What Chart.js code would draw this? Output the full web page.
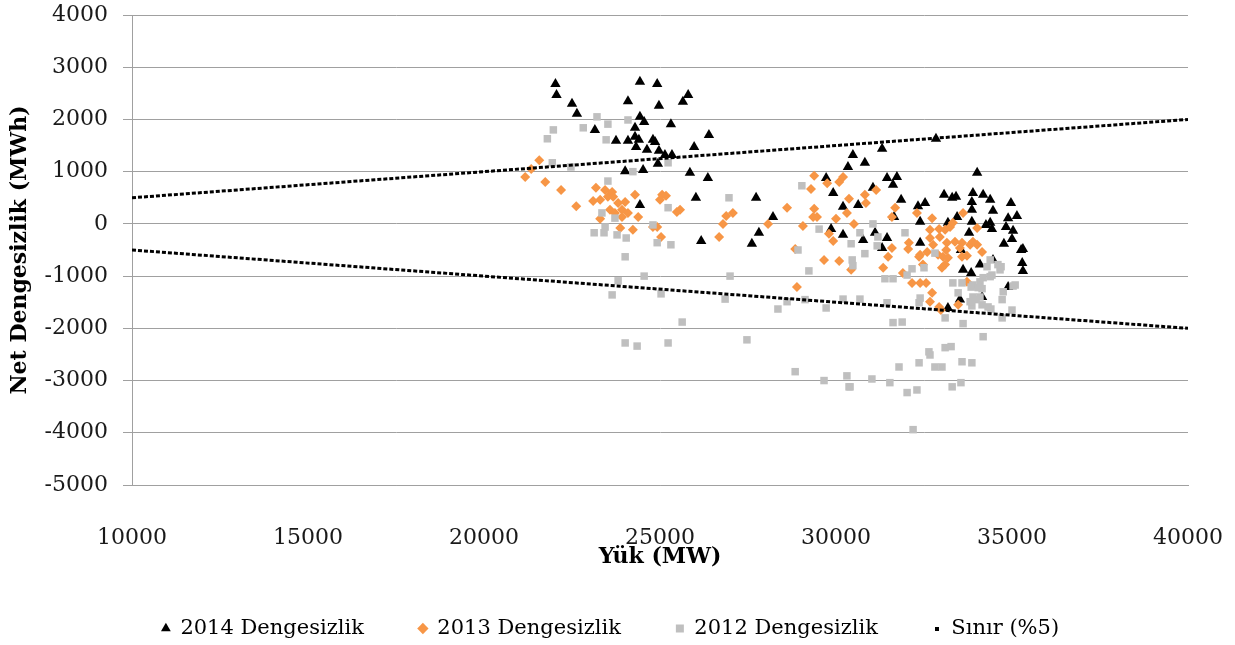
<!DOCTYPE html>
<html>
<head>
<meta charset="utf-8">
<script src="https://cdn.jsdelivr.net/npm/chart.js@4.4.1/dist/chart.umd.min.js"></script>
<style>
  html, body { margin: 0; padding: 0; background: #fff; }
</style>
</head>
<body>
<canvas id="grafik" width="1235" height="645"></canvas>
<script>
// 2014 dengesizlik (yuk MW, net dengesizlik MWh)
const x2014 = [22030,22060,22500,22640,23150,23750,24090,24430,24920,24090,24970,24430,24550,24290,24290,24400,24320,24630,24800,24860,
  24970,25140,25340,25310,25650,25800,24520,24010,24940,24430,25850,26390,25970,26360,26020,27730,28210,27810,26170,27610,
  30480,30340,29720,29920,30200,30630,29860,30200,30770,32840,31310,30820,34010,31450,31730,31620,31050,31850,32330,32530,
  33070,33300,33410,33890,34180,33860,34380,33860,34460,34970,35140,34890,34380,34260,34430,34830,35030,33440,33180,33780,
  32390,31650,31110,31450,31310,32390,34770,35000,35260,35310,33550,33610,33840,34090,34460,35290,35310,34890,33520,33180,
  34150,33860];
const y2014 = [2680,2470,2300,2110,1800,1590,1590,2720,2680,2350,2260,2050,1950,1840,1670,1610,1470,1420,1610,1570,
  1400,1320,1320,1910,2340,2470,1030,1010,1150,360,980,1700,1470,880,500,500,130,-170,-330,-380,
  1320,1090,880,590,330,360,-100,-210,-310,1630,1440,1170,980,880,900,750,690,460,340,400,
  560,500,520,590,560,420,460,270,250,400,150,110,20,-20,-100,-60,-130,130,20,-170,
  40,130,-170,-270,-460,-360,-380,-290,-500,-480,-500,-880,-940,-780,-690,-750,-900,-1210,-1450,-1610,
  -1400,40];

// 2013
const x2013 = [21570,21340,21170,21740,22190,22620,23180,23440,23520,23300,23100,23640,23670,23580,23810,24010,24290,23920,24090,24380,
  23300,23720,23920,23870,24230,24920,25060,25170,25000,25480,25030,24800,
  25570,26880,27070,26790,26680,28070,28610,29060,28840,28890,29380,29290,29750,30090,30200,30370,29350,29460,29380,30310,30000,29800,29920,30510,29660,30090,30430,
  30820,30850,31140,31680,31590,32300,32730,32930,33240,33320,33610,32670,32950,32760,33150,33380,33580,33810,34010,32070,
  32050,31590,31480,32390,32590,32900,33040,33580,33720,34150,34010,33890,33100,33520,33130,33180,33100,33010,33720,33470,
  31340,31900,32160,32390,32560,32730,32670,32930,32980,32360,32470,32670];
const y2013 = [1220,1050,900,800,650,340,690,650,520,460,440,610,520,270,400,420,560,270,210,130,
  100,210,130,-80,-110,-60,560,540,460,230,-250,-60,
  270,150,210,0,-250,0,310,-40,-480,-1210,920,670,780,800,900,480,130,130,290,210,100,-190,-330,0,-690,-710,-880,
  560,400,650,310,130,210,110,-100,-60,20,210,-270,-250,-400,-360,-340,-360,-400,-400,-360,
  -480,-460,-630,-590,-540,-590,-630,-630,-610,-540,-80,-340,-110,-460,-500,-650,-780,-840,-1110,-1550,
  -840,-940,-1130,-1130,-1130,-1320,-1490,-1590,-1650,-630,-780,-110];

// 2012
const x2012 = [23210,23520,22820,21970,21800,23470,24090,21940,22470,24230,
  23520,25230,23350,23720,23440,23410,23130,23780,24040,24800,
  24920,25310,25230,24010,23810,23640,24550,25030,25630,24010,
  24350,25230,26990,26850,27470,28350,28610,29230,28840,29120,
  29720,29660,30200,30310,30370,28920,30460,30480,30680,29030,
  26960,29520,30430,31050,31190,31170,30820,31960,32810,32160,
  32500,31390,31620,32020,33320,33580,34090,33840,34150,34290,
  34380,34690,35030,34750,34720,33980,33860,34150,34400,35000,
  34720,32390,32360,31450,33100,33610,34180,31620,31880,33100,
  33270,32640,32670,33580,33860,32360,31790,32810,33010,31020,
  31530,30400,32020,32300,33300,33550,32190,30680,34380,34600,
  34660,34430,34180,35090,33890,34040,33470,33890,34090,33810,
  34320];
const y2012 = [2050,1910,1840,1800,1630,1610,1990,1170,1090,1000,
  820,1170,210,110,-60,-170,-170,-210,-270,-20,
  -360,-400,310,-630,-1090,-1360,-1000,-1340,-1880,-2280,
  -2340,-2280,-1000,-1440,-2220,-1630,-1490,-900,-2830,-1450,
  -1610,-3000,-1440,-2910,-3120,-500,-690,-800,-1440,730,
  500,-100,-380,0,-250,-420,-570,-170,-560,-860,
  -840,-1050,-1050,-980,-1130,-1130,-1110,-1210,-1240,-820,
  -1010,-820,-1190,-1300,-1450,-1450,-1570,-1550,-1630,-1650,
  -1800,-1420,-1510,-1510,-1800,-1910,-2160,-1890,-1880,-2370,
  -2350,-2450,-2510,-2640,-2660,-2660,-2740,-2740,-2740,-2970,
  -3040,-3120,-3230,-3180,-3120,-3040,-3940,-170,-690,-780,
  -880,-980,-1030,-1170,-1170,-1220,-1320,-1400,-1400,-1490,
  -1590];

// %5 sinir cizgileri
const sinirX = [10000, 40000];
const sinirUst = [500, 2000];
const sinirAlt = [-500, -2000];

const etiketler = ['2014 Dengesizlik', '2013 Dengesizlik', '2012 Dengesizlik', 'Sınır (%5)'];

function noktalar(xs, ys) {
  return xs.map((x, i) => ({ x: x, y: ys[i] }));
}

// legend icin kucuk nokta
const nokta = document.createElement('canvas');
nokta.width = 4; nokta.height = 4;
const nctx = nokta.getContext('2d');
nctx.fillStyle = '#000';
nctx.fillRect(0, 0, 4, 4);

Chart.defaults.font.family = "'DejaVu Serif', serif";
Chart.defaults.color = '#1a1a1a';

const gridRenk = '#a0a0a0';

new Chart(document.getElementById('grafik'), {
  type: 'scatter',
  data: {
    datasets: [
      {
        label: etiketler[0],
        data: noktalar(x2014, y2014),
        pointStyle: 'triangle',
        pointRadius: 6,
        backgroundColor: '#000000',
        borderColor: '#000000',
        borderWidth: 0,
        order: 5
      },
      {
        label: etiketler[1],
        data: noktalar(x2013, y2013),
        pointStyle: 'rectRot',
        pointRadius: 5,
        backgroundColor: '#f79646',
        borderColor: '#f79646',
        borderWidth: 0,
        order: 4
      },
      {
        label: etiketler[2],
        data: noktalar(x2012, y2012),
        pointStyle: 'rect',
        pointRadius: 5.3,
        backgroundColor: '#bfbfbf',
        borderColor: '#bfbfbf',
        borderWidth: 0,
        order: 3
      },
      {
        label: etiketler[3],
        data: noktalar(sinirX, sinirUst),
        showLine: true,
        borderColor: '#000',
        backgroundColor: '#000',
        borderWidth: 3,
        borderDash: [4, 2],
        pointRadius: 0,
        pointStyle: nokta,
        order: 2
      },
      {
        label: 'Sınır alt',
        data: noktalar(sinirX, sinirAlt),
        showLine: true,
        borderColor: '#000',
        backgroundColor: '#000',
        borderWidth: 3,
        borderDash: [4, 2],
        pointRadius: 0,
        pointStyle: nokta,
        order: 1
      }
    ]
  },
  options: {
    responsive: false,
    animation: false,
    layout: { padding: { top: 15, right: 14, left: 0, bottom: -4 } },
    plugins: {
      tooltip: { enabled: false },
      legend: {
        position: 'bottom',
        labels: {
          usePointStyle: true,
          boxWidth: 8,
          boxHeight: 8,
          padding: 55,
          color: '#000',
          font: { size: 21 },
          filter: item => item.datasetIndex !== 4,
          sort: (a, b) => a.datasetIndex - b.datasetIndex
        }
      }
    },
    scales: {
      x: {
        type: 'linear',
        min: 10000,
        max: 40000,
        ticks: {
          stepSize: 5000, padding: 32, font: { size: 22 }, maxRotation: 0,
          callback: v => String(v)
        },
        grid: { display: false },
        border: { color: gridRenk },
        title: {
          display: true,
          text: 'Yük (MW)',
          color: '#000',
          font: { size: 22, weight: 'bold' },
          padding: { top: 0, bottom: -7 }
        },
        afterFit: s => {
          s.height = 78;
          s.paddingLeft = 0;
          s.paddingRight = 0;
        }
      },
      y: {
        min: -5000,
        max: 4000,
        ticks: {
          stepSize: 1000, padding: 15, font: { size: 22 },
          callback: v => String(v)
        },
        grid: { color: gridRenk, tickLength: 9 },
        border: { color: gridRenk },
        title: {
          display: true,
          text: 'Net Dengesizlik (MWh)',
          color: '#000',
          font: { size: 22, weight: 'bold' },
          padding: { top: 7, bottom: 0 }
        },
        afterFit: s => {
          s.width = 132;
          s.paddingTop = 0;
          s.paddingBottom = 0;
        }
      },
      sag: {
        position: 'right',
        display: true,
        ticks: { display: false },
        grid: { display: false },
        border: { display: false },
        afterFit: s => { s.width = 33; }
      }
    }
  }
});
</script>
</body>
</html>
